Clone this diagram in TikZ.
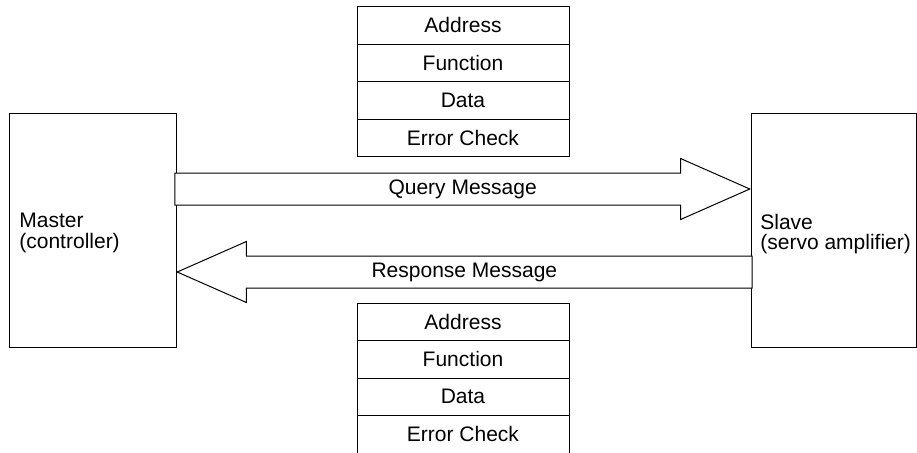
\documentclass[tikz,border=0pt]{standalone}
\usepackage{fontspec}
\setmainfont{Liberation Sans}
\usetikzlibrary{shapes.arrows, positioning, calc}
\tikzstyle{box} = [draw, rectangle, line width=0.5pt, outer sep=0pt, minimum width=83.5pt, minimum height=117pt]
\tikzstyle{field} = [draw, rectangle, line width=0.5pt, outer sep=0pt, minimum width=106pt, minimum height=18.75pt, inner sep=0pt]
\tikzstyle{bigarrow} = [draw, single arrow, line width=0.5pt, fill=white, inner sep=0pt, text height=15.5pt, text depth=0pt, minimum height=287.5pt, single arrow head extend=7.25pt, single arrow tip angle=47.6, single arrow head indent=0pt]
\tikzstyle{boxtext} = [anchor=west, align=left, inner sep=0pt]

\begin{document}
\begin{tikzpicture}[x=0.5pt, y=-0.5pt, font=\fontsize{10.5}{10.3}\selectfont]
	\useasboundingbox (0,0) rectangle (917,452);

	\node [box] (master) at (92.5,230) {};
	\node [box, minimum width=82.5pt] (slave) at (833.5,230) {};
	\node [boxtext] (mastertext) at ($(master.west)+(10,3)$) {Master\\(controller)};
	\node [boxtext] (slavetext) at ($(slave.west)+(9,4)$) {Slave\\(servo amplifier)};

	% query frame
	\node [field] (qaddr) at (463,25.25) {Address};
	\node [field, below=0pt of qaddr] (qfunc) {Function};
	\node [field, below=0pt of qfunc] (qdata) {Data};
	\node [field, below=0pt of qdata] (qcheck) {Error Check};

	% response frame
	\node [field] (raddr) at (463,321.75) {Address};
	\node [field, below=0pt of raddr] (rfunc) {Function};
	\node [field, below=0pt of rfunc] (rdata) {Data};
	\node [field, below=0pt of rdata] (rcheck) {Error Check};

	\node [bigarrow, anchor=tip] (query) at ($(slave.west)+(0,-41)$) {};
	\node [bigarrow, shape border rotate=180, anchor=tip] (response) at ($(master.east)+(0,42)$) {};
	\node (querytext) at ($(query.tip)!0.5!(query.tail)$) {Query Message};
	\node (responsetext) at ($(response.tip)!0.5!(response.tail)$) {Response Message};
\end{tikzpicture}
\end{document}
